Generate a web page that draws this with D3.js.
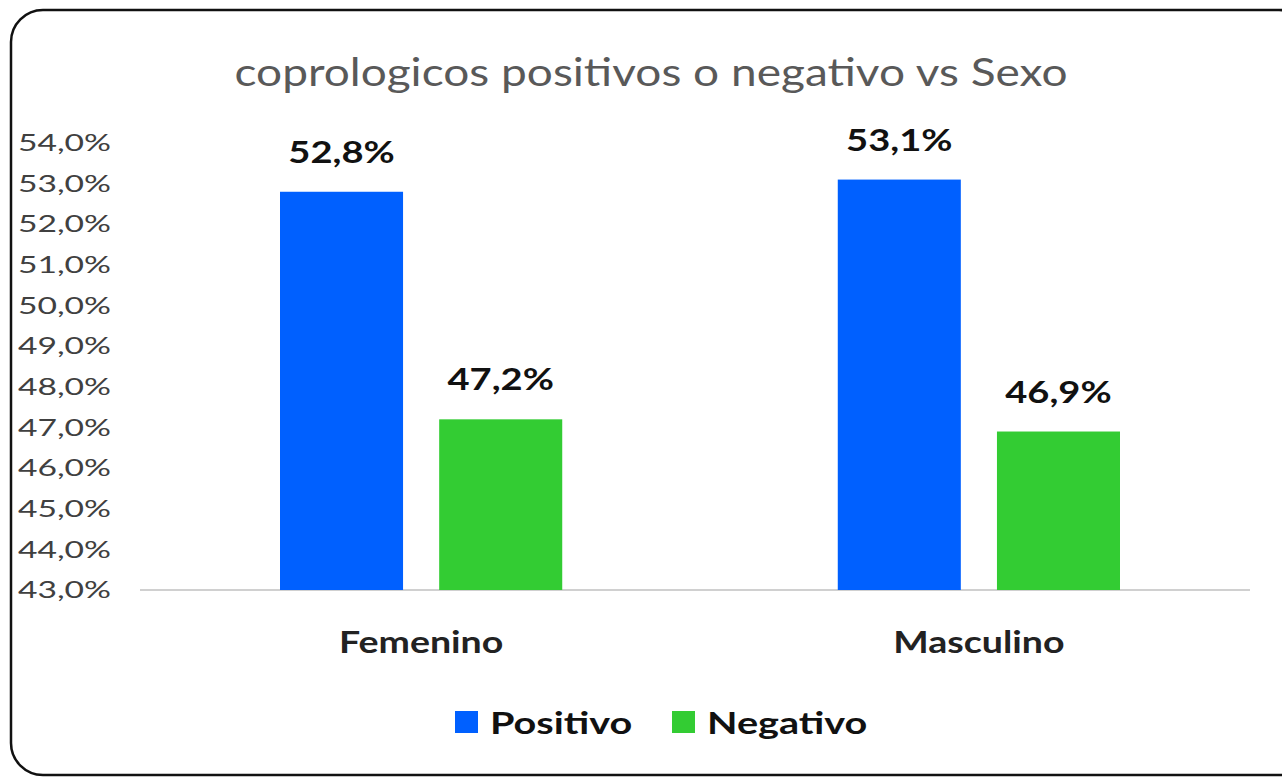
<!DOCTYPE html>
<html>
<head>
<meta charset="utf-8">
<script src="https://cdn.jsdelivr.net/npm/d3@7"></script>
<style>
  body { margin: 0; background: #fff; }
  text { font-family: Lato, "Open Sans", sans-serif; }
</style>
</head>
<body>
<div id="chart"></div>
<script>
var svgWidth = 1282;
var svgHeight = 778;

// data
var categories = ["Femenino", "Masculino"];
var seriesNames = ["Positivo", "Negativo"];
var positivo = [52.8, 53.1];
var negativo = [47.2, 46.9];
var yTicks = [43, 44, 45, 46, 47, 48, 49, 50, 51, 52, 53, 54];
var colors = ["#0060ff", "#33cc33"];

var margin = { top: 143, bottom: 188, left: 140, right: 22 };
var width = svgWidth - margin.left - margin.right;
var height = svgHeight - margin.top - margin.bottom;

// the picture's text is wider than Lato, so widen glyphs a bit
function stretch(sel, sx) {
    sel.each(function() {
        var len = this.getComputedTextLength();
        d3.select(this)
            .attr("textLength", len * sx)
            .attr("lengthAdjust", "spacingAndGlyphs");
    });
}

function pct(v) {
    return d3.format(".1f")(v).replace(".", ",") + "%";
}

var svg = d3.select("#chart")
    .append("svg")
    .attr("width", svgWidth)
    .attr("height", svgHeight);

// rounded frame, runs off the right edge like the picture
svg.append("rect")
    .attr("x", 11)
    .attr("y", 10)
    .attr("width", 1300)
    .attr("height", 765)
    .attr("rx", 32)
    .attr("fill", "#fff")
    .attr("stroke", "#111")
    .attr("stroke-width", 2.5);

var title = svg.append("text")
    .attr("x", 651)
    .attr("y", 86)
    .attr("text-anchor", "middle")
    .style("font-size", "39px")
    .style("fill", "#595959")
    .text("coprologicos positivos o negativo vs Sexo");
stretch(title, 1.18);

var chartGroup = svg.append("g")
    .attr("transform", `translate(${margin.left}, ${margin.top})`);

var x0 = d3.scaleBand()
    .domain(categories)
    .range([0, width])
    .paddingInner(0.494)
    .paddingOuter(0.251);

var x1 = d3.scaleBand()
    .domain(seriesNames)
    .range([0, x0.bandwidth()])
    .paddingInner(0.227);

var y = d3.scaleLinear()
    .domain([43, 54])
    .range([height, 0]);

// y axis labels
var leftAxis = d3.axisLeft(y)
    .tickValues(yTicks)
    .tickSize(0)
    .tickPadding(29)
    .tickFormat(pct);

var yAxis = chartGroup.append("g").call(leftAxis);
yAxis.select(".domain").remove();
yAxis.selectAll("text")
    .style("font-size", "24px")
    .style("fill", "#404040")
    .style("font-family", "Lato, sans-serif")
    .call(stretch, 1.4);

// baseline
chartGroup.append("line")
    .attr("x1", 0)
    .attr("x2", width - 10)
    .attr("y1", height)
    .attr("y2", height)
    .attr("stroke", "#d0d0d0")
    .attr("stroke-width", 2);

var rows = categories.map((c, i) => ({ cat: c, vals: [positivo[i], negativo[i]] }));

var groups = chartGroup.selectAll("g.cat")
    .data(rows)
    .enter()
    .append("g")
    .classed("cat", true)
    .attr("transform", d => `translate(${x0(d.cat)}, 0)`);

groups.selectAll("rect")
    .data(d => d.vals.map((v, j) => ({ name: seriesNames[j], value: v, j: j })))
    .enter()
    .append("rect")
    .attr("x", d => x1(d.name))
    .attr("y", d => y(d.value))
    .attr("width", x1.bandwidth())
    .attr("height", d => height - y(d.value))
    .attr("fill", d => colors[d.j]);

groups.selectAll("text.val")
    .data(d => d.vals.map((v, j) => ({ name: seriesNames[j], value: v })))
    .enter()
    .append("text")
    .classed("val", true)
    .attr("x", d => x1(d.name) + x1.bandwidth() / 2)
    .attr("y", d => y(d.value) - 29)
    .attr("text-anchor", "middle")
    .style("font-size", "30px")
    .style("font-weight", "bold")
    .style("fill", "#111")
    .text(d => pct(d.value))
    .call(stretch, 1.27);

// category labels
chartGroup.selectAll("text.cat")
    .data(categories)
    .enter()
    .append("text")
    .classed("cat", true)
    .attr("x", d => x0(d) + x0.bandwidth() / 2)
    .attr("y", height + 63)
    .attr("text-anchor", "middle")
    .style("font-size", "30px")
    .style("font-weight", "bold")
    .style("fill", "#222")
    .text(d => d)
    .call(stretch, 1.25);

// legend
var legend = svg.append("g").attr("transform", "translate(455, 722)");
var legendX = [0, 217];
seriesNames.forEach(function(name, i) {
    legend.append("rect")
        .attr("x", legendX[i])
        .attr("y", -11)
        .attr("width", 23)
        .attr("height", 22)
        .attr("fill", colors[i]);
    legend.append("text")
        .attr("x", legendX[i] + 35)
        .attr("y", 12)
        .style("font-size", "30px")
        .style("font-weight", "bold")
        .style("fill", "#111")
        .text(name)
        .call(stretch, 1.32);
});
</script>
</body>
</html>
